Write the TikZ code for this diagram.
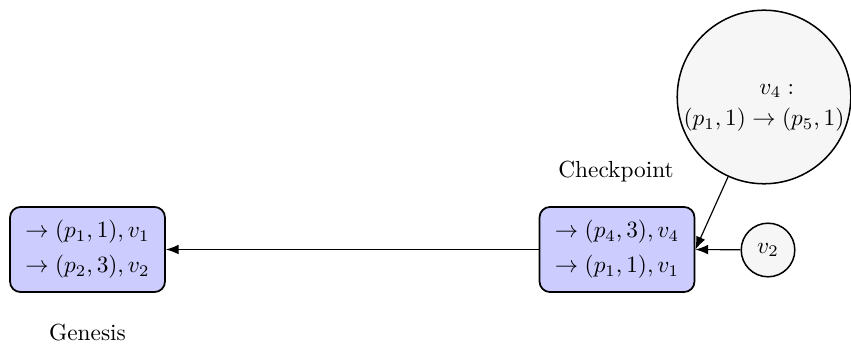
\documentclass[tikz,border=0pt]{standalone}
\usetikzlibrary{arrows.meta}
\begin{document}
\begin{tikzpicture}[x=0.4292pt,y=-0.4292pt,
  blockbox/.style={draw,line width=0.75pt,fill=blue!20,rounded corners=4.5pt,minimum width=66.5pt,minimum height=36.5pt,align=center,inner sep=0pt},
  txbox/.style={draw,line width=0.65pt,fill=gray!7,circle,align=center,inner sep=0pt},
  conn/.style={-{Latex[length=5.5pt,width=4.2pt]},line width=0.5pt}]
\useasboundingbox (0,0) rectangle (851,348);
\node[blockbox] (gen) at (87.5,249.5) {$\rightarrow (p_1,1), v_1$\\[3pt]$\rightarrow (p_2,3), v_2$};
\node[blockbox] (cp) at (617,249.5) {$\rightarrow (p_4,3), v_4$\\[3pt]$\rightarrow (p_1,1), v_1$};
\node[txbox,minimum size=74.5pt] (v4) at (764,97) {\raisebox{-5.7pt}[0pt][0pt]{\begin{tabular}{@{}c@{}}\hspace*{11pt}$v_4:$\\[1.6pt]$(p_1,1)\rightarrow(p_5,1)$\end{tabular}}};
\node[txbox,minimum size=23pt] (v2) at (768,250) {$v_2$};
\node (cplab) at (616,172) {Checkpoint};
\node (genlab) at (87.5,333) {Genesis};
\draw[conn] (cp) -- (gen);
\draw[conn] (v2) -- (cp.east);
\draw[conn] (v4) -- (cp.east);
\end{tikzpicture}
\end{document}
